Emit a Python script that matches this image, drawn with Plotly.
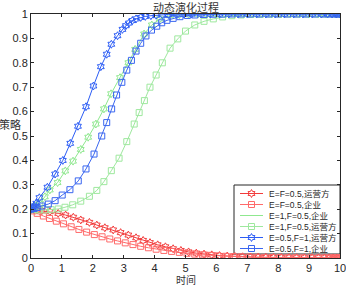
import plotly.graph_objects as go

# E=F=0.5, 运营方 (red hexagram)
t_r1 = [0, 0.1, 0.2, 0.35, 0.61, 0.88, 1.12, 1.37, 1.61, 1.89, 2.13, 2.39, 2.66, 2.9, 3.15, 3.4, 3.63, 3.85, 4.1, 4.35,
        4.6, 4.85, 5.1, 5.35, 5.6, 5.85, 6.1, 6.35, 6.6, 6.85, 7.1, 7.35, 7.6, 7.85, 8.1, 8.35, 8.6, 8.85, 9.1, 9.3,
        9.5, 9.65, 9.78, 9.9, 10]
y_r1 = [0.2, 0.198, 0.196, 0.194, 0.19, 0.183, 0.176, 0.167, 0.156, 0.146, 0.135, 0.124, 0.115, 0.104, 0.094, 0.083,
        0.072, 0.063, 0.054, 0.046, 0.038, 0.031, 0.025, 0.02, 0.016, 0.013, 0.01, 0.008, 0.006, 0.005, 0.004, 0.003,
        0.0025, 0.002, 0.0015, 0.0012, 0.001, 0.0008, 0.0006, 0.0005, 0.0004, 0.0003, 0.0003, 0.0002, 0.0002]

# E=F=0.5, 企业 (red square)
t_r2 = [0, 0.07, 0.2, 0.4, 0.6, 0.82, 1.05, 1.3, 1.55, 1.8, 2.05, 2.3, 2.55, 2.8, 3.05, 3.3, 3.55, 3.8, 4.05, 4.3,
        4.55, 4.8, 5.05, 5.3, 5.55, 5.8, 6.05, 6.3, 6.55, 6.8, 7.05, 7.3, 7.55, 7.8, 8.05, 8.3, 8.55, 8.8, 9.05, 9.3,
        9.5, 9.65, 9.78, 9.9, 10]
y_r2 = [0.2, 0.193, 0.183, 0.172, 0.162, 0.151, 0.14, 0.128, 0.117, 0.106, 0.096, 0.087, 0.078, 0.07, 0.062, 0.055,
        0.048, 0.042, 0.036, 0.031, 0.027, 0.023, 0.019, 0.016, 0.013, 0.011, 0.009, 0.007, 0.006, 0.005, 0.004, 0.003,
        0.0025, 0.002, 0.0015, 0.0012, 0.001, 0.0008, 0.0006, 0.0005, 0.0004, 0.0003, 0.0003, 0.0002, 0.0002]

# E=1,F=0.5, 企业 (light green)
t_g1 = [0, 0.07, 0.15, 0.29, 0.45, 0.61, 0.86, 1.11, 1.36, 1.61, 1.85, 2.1, 2.36, 2.59, 2.88, 3.15, 3.37, 3.66, 3.91,
        4.17, 4.5, 4.8, 5.1, 5.4, 5.7, 6.0, 6.3, 6.6, 6.9, 7.2, 7.5, 7.8, 8.1, 8.4, 8.7, 9.0, 9.3, 9.55, 9.75, 9.9, 10]
y_g1 = [0.2, 0.207, 0.213, 0.224, 0.251, 0.279, 0.309, 0.357, 0.397, 0.445, 0.495, 0.549, 0.611, 0.673, 0.739, 0.80,
        0.855, 0.918, 0.955, 0.98, 0.993, 0.997, 0.999, 0.9995, 1.0, 1.0, 1.0, 1.0, 1.0, 1.0, 1.0, 1.0, 1.0, 1.0, 1.0,
        1.0, 1.0, 1.0, 1.0, 1.0, 1.0]

# E=1,F=0.5, 运营方 (green square)
t_g2 = [0, 0.12, 0.25, 0.45, 0.65, 0.88, 1.1, 1.35, 1.61, 1.89, 2.13, 2.36, 2.6, 2.85, 3.1, 3.34, 3.5, 3.67, 3.85,
        4.05, 4.25, 4.5, 4.75, 5.0, 5.3, 5.6, 5.9, 6.2, 6.5, 6.8, 7.1, 7.4, 7.7, 8.0, 8.3, 8.6, 8.9, 9.2, 9.45, 9.65,
        9.8, 9.92, 10]
y_g2 = [0.2, 0.198, 0.197, 0.197, 0.198, 0.201, 0.208, 0.218, 0.233, 0.253, 0.277, 0.313, 0.358, 0.409, 0.477, 0.549,
        0.596, 0.645, 0.70, 0.75, 0.80, 0.86, 0.898, 0.93, 0.955, 0.97, 0.98, 0.988, 0.993, 0.996, 0.998, 0.999, 1.0,
        1.0, 1.0, 1.0, 1.0, 1.0, 1.0, 1.0, 1.0, 1.0, 1.0]

# E=0.5,F=1, 运营方 (blue hexagram)
t_b1 = [0, 0.05, 0.1, 0.17, 0.27, 0.53, 0.78, 1.03, 1.27, 1.52, 1.78, 2.02, 2.26, 2.45, 2.6, 2.8, 2.96, 3.07, 3.17,
        3.28, 3.4, 3.55, 3.7, 3.88, 4.05, 4.25, 4.45, 4.7, 4.95, 5.2, 5.5, 5.8, 6.1, 6.4, 6.7, 7.0, 7.3, 7.6, 7.9, 8.2,
        8.5, 8.8, 9.1, 9.4, 9.6, 9.75, 9.88, 10]
y_b1 = [0.2, 0.206, 0.213, 0.224, 0.247, 0.29, 0.344, 0.40, 0.47, 0.54, 0.62, 0.705, 0.784, 0.835, 0.876, 0.911, 0.937,
        0.952, 0.963, 0.973, 0.98, 0.986, 0.99, 0.993, 0.995, 0.997, 0.998, 0.999, 0.9993, 0.9996, 0.9998, 0.9999,
        1.0, 1.0, 1.0, 1.0, 1.0, 1.0, 1.0, 1.0, 1.0, 1.0, 1.0, 1.0, 1.0, 1.0, 1.0, 1.0]

# E=0.5,F=1, 企业 (blue square)
t_b2 = [0, 0.1, 0.2, 0.35, 0.56, 0.78, 1.01, 1.26, 1.53, 1.78, 2.04, 2.29, 2.45, 2.61, 2.77, 2.94, 3.1, 3.25, 3.4,
        3.55, 3.72, 3.9, 4.07, 4.23, 4.4, 4.6, 4.82, 5.06, 5.3, 5.6, 5.9, 6.2, 6.5, 6.8, 7.1, 7.4, 7.7, 8.0, 8.3, 8.6,
        8.9, 9.2, 9.45, 9.65, 9.8, 9.92, 10]
y_b2 = [0.2, 0.203, 0.207, 0.213, 0.221, 0.235, 0.258, 0.28, 0.316, 0.365, 0.426, 0.50, 0.555, 0.611, 0.668, 0.72,
        0.77, 0.81, 0.848, 0.88, 0.91, 0.934, 0.95, 0.964, 0.974, 0.982, 0.989, 0.994, 0.996, 0.998, 0.999, 0.9995,
        1.0, 1.0, 1.0, 1.0, 1.0, 1.0, 1.0, 1.0, 1.0, 1.0, 1.0, 1.0, 1.0, 1.0, 1.0]

x_ticks = [0, 1, 2, 3, 4, 5, 6, 7, 8, 9, 10]
y_ticks = [0, 0.1, 0.2, 0.3, 0.4, 0.5, 0.6, 0.7, 0.8, 0.9, 1]
y_tick_labels = ["0", "0.1", "0.2", "0.3", "0.4", "0.5", "0.6", "0.7", "0.8", "0.9", "1"]

series_names = ["E=F=0.5,运营方", "E=F=0.5,企业", "E=1,F=0.5,企业",
                "E=1,F=0.5,运营方", "E=0.5,F=1,运营方", "E=0.5,F=1,企业"]

styles = [
    ("#f23b3b", "hexagram-open"),
    ("#ff6a6a", "square-open"),
    ("#8fe88f", "hexagram-open"),
    ("#9ee89e", "square-open"),
    ("#2b5cf5", "hexagram-open"),
    ("#3a66f0", "square-open"),
]
data = [(t_r1, y_r1), (t_r2, y_r2), (t_g1, y_g1), (t_g2, y_g2), (t_b1, y_b1), (t_b2, y_b2)]

W, H = 346, 287
L, R, T, B = 31, 6, 14, 29

fig = go.Figure()
for (t, y), name, (color, sym) in zip(data, series_names, styles):
    fig.add_trace(go.Scatter(
        x=t, y=y, name=name, mode="lines+markers", showlegend=False,
        line=dict(color=color, width=1),
        marker=dict(symbol=sym, size=6, color=color, line=dict(width=1, color=color)),
    ))

# ---- compact legend (MATLAB style), drawn on a pixel-space overlay axis ----
leg_x0, leg_x1, leg_y0, leg_y1 = 234, 340, 185, 254
key_x0, key_x1, text_x = 240, 263, 267
row_top, row_step = 193.5, 11.0
annotations = []
for i, (name, (color, sym)) in enumerate(zip(series_names, styles)):
    yc = row_top + i * row_step
    fig.add_trace(go.Scatter(
        x=[key_x0, key_x1], y=[yc, yc], mode="lines", xaxis="x2", yaxis="y2", showlegend=False,
        line=dict(color=color, width=1), hoverinfo="skip"))
    if i != 2:
        fig.add_trace(go.Scatter(
            x=[(key_x0 + key_x1) / 2], y=[yc], mode="markers", xaxis="x2", yaxis="y2", showlegend=False,
            marker=dict(symbol=sym, size=6, color=color, line=dict(width=1, color=color)), hoverinfo="skip"))
    annotations.append(dict(text=name, xref="x2", yref="y2", x=text_x, y=yc, xanchor="left", yanchor="middle",
                            showarrow=False,
                            font=dict(family="Liberation Sans, Noto Sans CJK SC, sans-serif", size=8.5,
                                      color="#262626")))

shapes = [dict(type="rect", xref="x2", yref="y2", x0=leg_x0, x1=leg_x1, y0=leg_y0, y1=leg_y1,
               line=dict(color="#262626", width=1), fillcolor="white", layer="below")]

axis_font = dict(family="Liberation Sans, Arial, sans-serif", size=11, color="#262626")
annotations += [
    dict(text="动态演化过程", xref="paper", yref="paper", x=0.5, y=1, yanchor="bottom", yshift=-3,
         showarrow=False, font=dict(family="Noto Sans CJK SC", size=11, color="#333333")),
    dict(text="时间", xref="paper", yref="paper", x=0.5, y=0, yanchor="bottom", yshift=-30, borderpad=0,
         showarrow=False, font=dict(family="Noto Sans CJK SC", size=10, color="#333333")),
    dict(text="策略", xref="paper", yref="paper", x=0, y=0.55, xanchor="right", xshift=-9, borderpad=0,
         showarrow=False, font=dict(family="Noto Sans CJK SC", size=11, color="#333333")),
]

fig.update_layout(
    width=W, height=H, autosize=False,
    margin=dict(l=L, r=R, t=T, b=B, pad=0),
    paper_bgcolor="white", plot_bgcolor="white",
    showlegend=False,
    xaxis=dict(range=[0, 10], tickmode="array", tickvals=x_ticks, ticks="inside", ticklen=3,
               showline=True, mirror="ticks", linecolor="#262626", linewidth=1, showgrid=False,
               zeroline=False, tickfont=axis_font, tickcolor="#262626", automargin=False,
               ticklabeloverflow="allow"),
    yaxis=dict(range=[0, 1], tickmode="array", tickvals=y_ticks, ticktext=y_tick_labels, ticks="inside", ticklen=3,
               showline=True, mirror="ticks", linecolor="#262626", linewidth=1, showgrid=False,
               zeroline=False, tickfont=axis_font, tickcolor="#262626", automargin=False,
               ticklabeloverflow="allow"),
    xaxis2=dict(range=[L, W - R], overlaying="x", visible=False, fixedrange=True),
    yaxis2=dict(range=[H - B, T], overlaying="y", visible=False, fixedrange=True),
    shapes=shapes,
    annotations=annotations,
)

fig.write_html("out.html", config={"displayModeBar": False, "responsive": False},
               post_script="document.body.style.margin='0px';")
